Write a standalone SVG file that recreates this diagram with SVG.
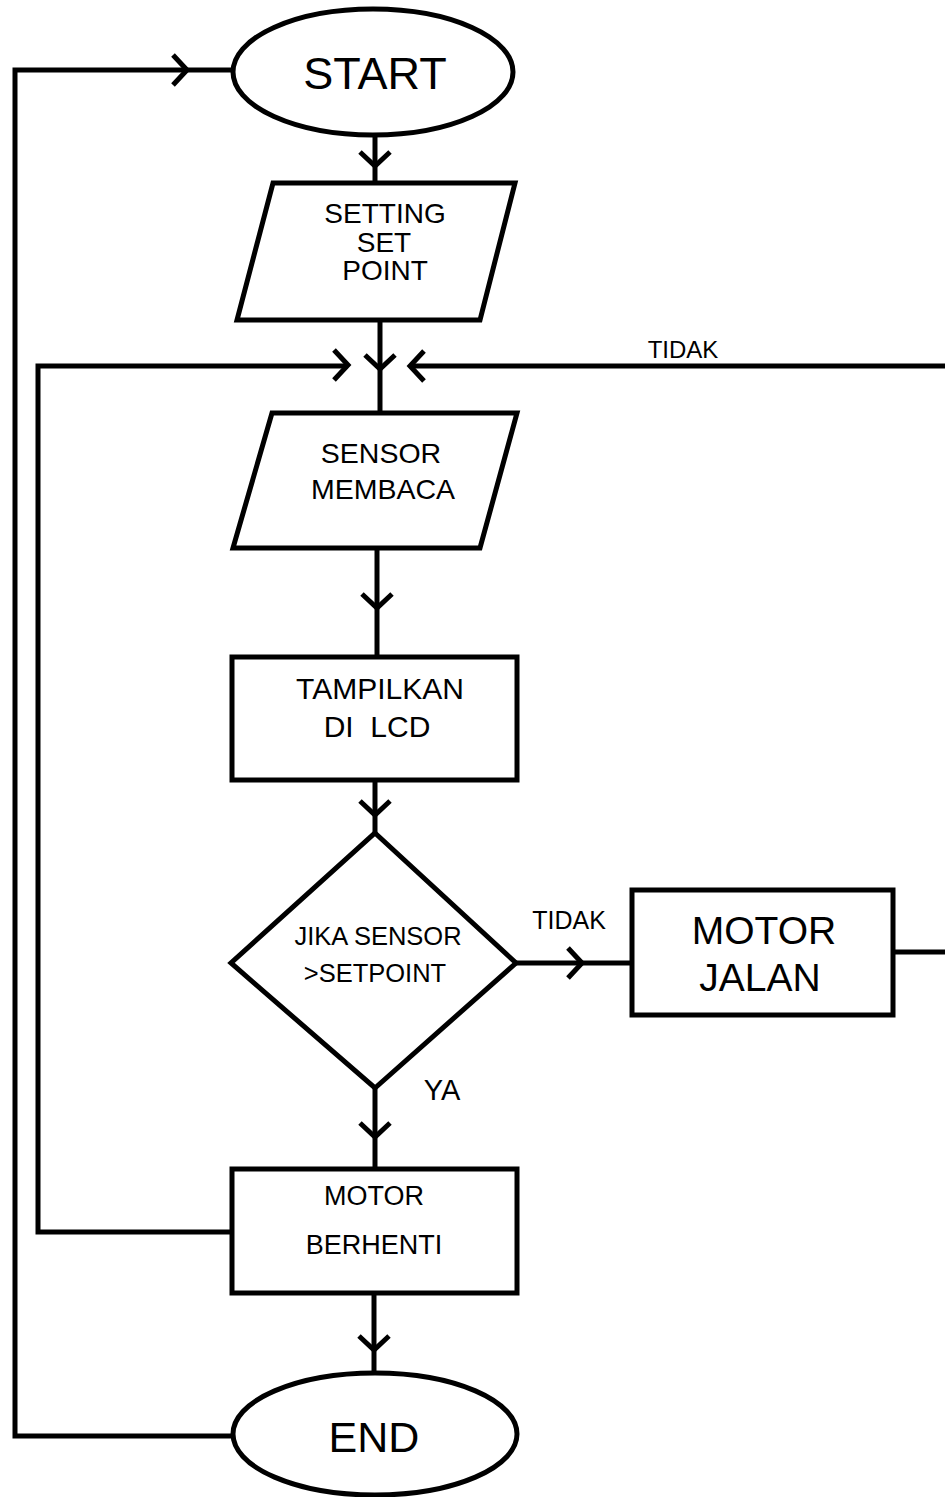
<svg xmlns="http://www.w3.org/2000/svg" width="945" height="1497" viewBox="0 0 945 1497">
<style>
.shape{fill:#fff;stroke:#000;stroke-width:5;stroke-linejoin:miter}
.line{fill:none;stroke:#000;stroke-width:5;stroke-linejoin:miter}
.chev{fill:none;stroke:#000;stroke-width:5;stroke-linecap:butt;stroke-linejoin:miter}
text{font-family:"Liberation Sans",Arial,sans-serif;fill:#000;text-anchor:middle;white-space:pre}
</style>
<defs>
<path id="chev" class="chev" d="M-14,-15 L0,0 L-14,15"/>
</defs>
<rect width="945" height="1497" fill="#fff"/>
<g id="connectors">
<path class="line" d="M233,1436 H15 V70 H233"/>
<path class="line" d="M375,135 V183"/>
<path class="line" d="M380,320 V413"/>
<path class="line" d="M231,1232 H38 V366 H348"/>
<path class="line" d="M893,952 H952 V366 H410"/>
<path class="line" d="M377,548 V657"/>
<path class="line" d="M375,780 V833"/>
<path class="line" d="M516,963 H632"/>
<path class="line" d="M375,1088 V1169"/>
<path class="line" d="M374,1294 V1373"/>
<use href="#chev" transform="translate(187,70)"/>
<use href="#chev" transform="translate(375,166) rotate(90)"/>
<use href="#chev" transform="translate(380,369) rotate(90)"/>
<use href="#chev" transform="translate(348,365)"/>
<use href="#chev" transform="translate(410,366) rotate(180)"/>
<use href="#chev" transform="translate(377,608) rotate(90)"/>
<use href="#chev" transform="translate(375,815) rotate(90)"/>
<use href="#chev" transform="translate(582,963)"/>
<use href="#chev" transform="translate(375,1137) rotate(90)"/>
<use href="#chev" transform="translate(374,1350) rotate(90)"/>
<text x="683" y="358" font-size="24">TIDAK</text>
<text x="569" y="929" font-size="25">TIDAK</text>
<text x="442" y="1100" font-size="29">YA</text>
</g>
<g id="start">
<ellipse class="shape" cx="373" cy="72" rx="140" ry="63"/>
<text x="375" y="89" font-size="45">START</text>
</g>
<g id="setting">
<polygon class="shape" points="273,183 515,183 480,320 237,320"/>
<text x="385" y="223" font-size="28">SETTING</text>
<text x="384" y="252" font-size="28">SET</text>
<text x="385" y="280" font-size="28">POINT</text>
</g>
<g id="sensor">
<polygon class="shape" points="272,413 517,413 480,548 233,548"/>
<text x="381" y="463" font-size="28.5">SENSOR</text>
<text x="383" y="499" font-size="28.5">MEMBACA</text>
</g>
<g id="tampilkan">
<rect class="shape" x="232" y="657" width="285" height="123"/>
<text x="380" y="699" font-size="30">TAMPILKAN</text>
<text x="377" y="737" font-size="30">DI  LCD</text>
</g>
<g id="decision">
<polygon class="shape" points="375,833 516,963 375,1088 231,963"/>
<text x="378" y="945" font-size="25.5">JIKA SENSOR</text>
<text x="375" y="982" font-size="25.5">&gt;SETPOINT</text>
</g>
<g id="motor-jalan">
<rect class="shape" x="632" y="890" width="261" height="125"/>
<text x="764" y="944" font-size="39">MOTOR</text>
<text x="760" y="991" font-size="39">JALAN</text>
</g>
<g id="motor-berhenti">
<rect class="shape" x="232" y="1169" width="285" height="124"/>
<text x="374" y="1205" font-size="27">MOTOR</text>
<text x="374" y="1254" font-size="27">BERHENTI</text>
</g>
<g id="end">
<ellipse class="shape" cx="375" cy="1434" rx="142" ry="61"/>
<text x="374" y="1452" font-size="43">END</text>
</g>
</svg>
